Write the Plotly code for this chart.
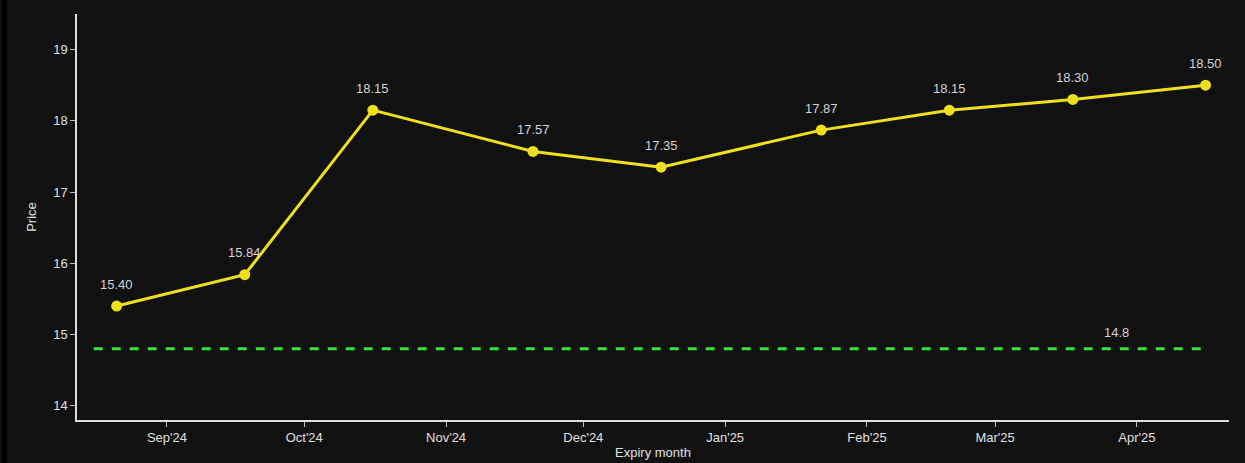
import plotly.graph_objects as go

expiry_dates = ["2024-08-21", "2024-09-18", "2024-10-16", "2024-11-20", "2024-12-18",
                "2025-01-22", "2025-02-19", "2025-03-18", "2025-04-16"]
futures_prices = [15.40, 15.84, 18.15, 17.57, 17.35, 17.87, 18.15, 18.30, 18.50]

spot_dates = ["2024-08-16", "2025-04-16"]
spot_value = 14.8
spot_label_date = "2025-03-27 14:00"

x_range = ["2024-08-12 08:00", "2025-04-21 03:00"]
y_range = [13.8, 19.5]

FONT = "Liberation Sans, Arial, sans-serif"
LABEL_COLOR = "#d4d4d4"

fig = go.Figure()
fig.add_trace(go.Scatter(
    x=spot_dates, y=[spot_value] * len(spot_dates), mode="lines",
    line=dict(color="#3be03b", width=3, dash="dash"),
    hoverinfo="skip", showlegend=False,
))
fig.add_trace(go.Scatter(
    x=expiry_dates, y=futures_prices, mode="lines+markers",
    line=dict(color="#eee01c", width=3),
    marker=dict(color="#eee01c", size=11),
    showlegend=False,
))
for d, v in zip(expiry_dates, futures_prices):
    fig.add_annotation(x=d, y=v, text=f"{v:.2f}", showarrow=False, yshift=22,
                       font=dict(color=LABEL_COLOR, size=13, family=FONT))
fig.add_annotation(x=spot_label_date, y=spot_value, text=f"{spot_value}",
                   showarrow=False, yshift=16,
                   font=dict(color=LABEL_COLOR, size=13, family=FONT))

axis_common = dict(
    showgrid=False, zeroline=False, showline=True, linecolor="#dddddd", linewidth=1.5,
    ticks="outside", ticklen=5, tickcolor="#bbbbbb", tickwidth=1,
    tickfont=dict(color="#e0e0e0", size=13, family=FONT),
)
fig.update_layout(
    width=1245, height=463,
    paper_bgcolor="#111111", plot_bgcolor="#111111",
    margin=dict(l=69, r=24, t=6, b=51),
    font=dict(family=FONT, color="#e0e0e0"),
    xaxis=dict(**axis_common, range=x_range, type="date", dtick="M1", tick0="2024-09-01",
               tickformat="%b'%y",
               title=dict(text="Expiry month", font=dict(size=13, color="#e0e0e0"), standoff=4)),
    yaxis=dict(**axis_common, range=y_range, dtick=1,
               title=dict(text="Price", font=dict(size=13, color="#e0e0e0"), standoff=14)),
)
fig.write_html(
    "out.html",
    config={"displayModeBar": False},
    post_script="document.body.style.background="
                "'linear-gradient(to right, #111111 0px, #111111 2px, #000000 2px, #000000 7px, #111111 7px)';",
)
